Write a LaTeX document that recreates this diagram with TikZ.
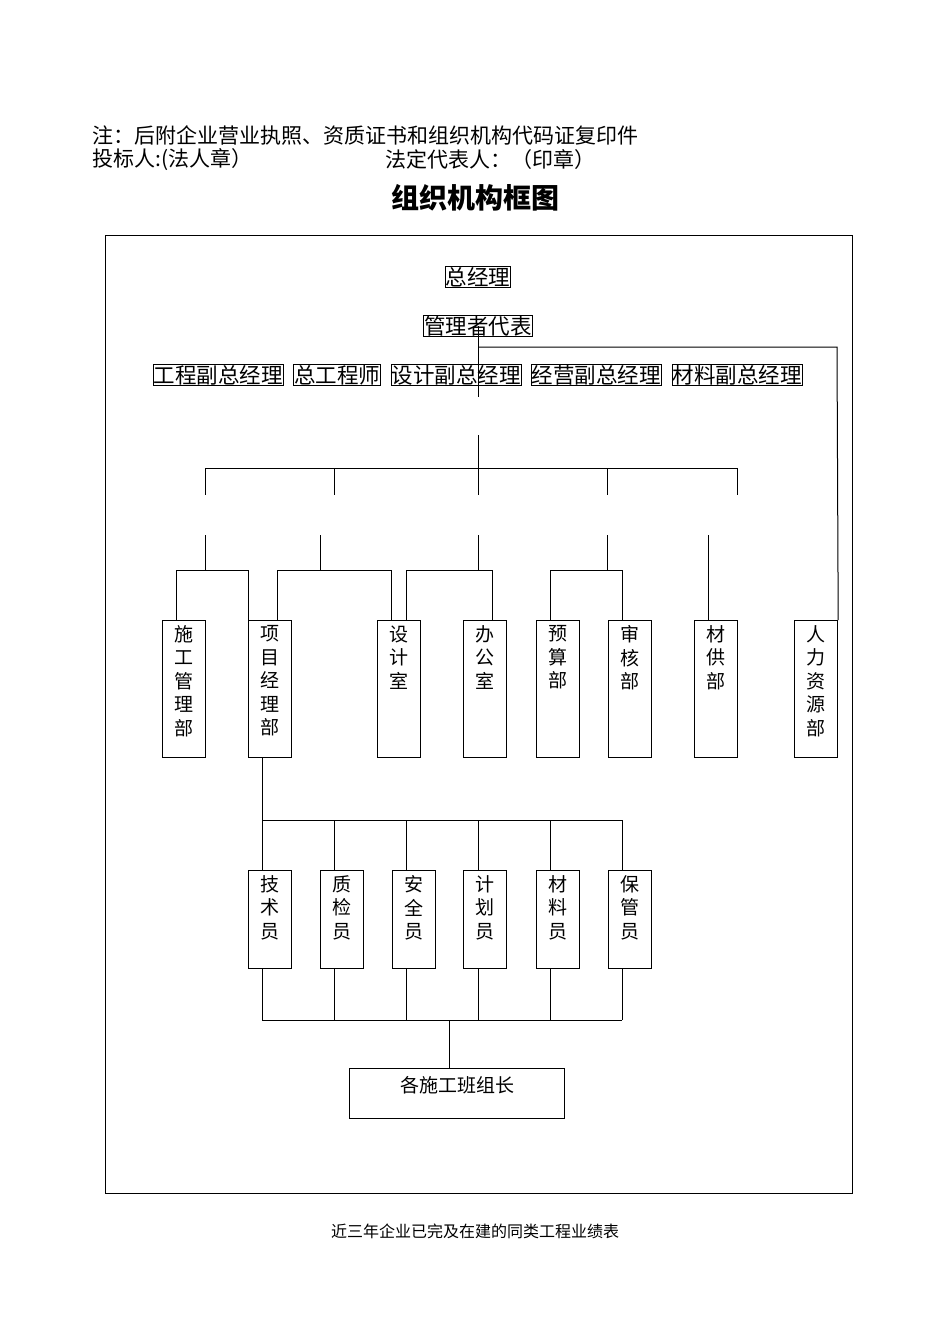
\documentclass[tikz,border=0pt]{standalone}
\usepackage{fontspec}
\newfontfamily\cjk{Noto Sans CJK SC}
\begin{document}
\begin{tikzpicture}[x=1pt,y=-1pt,line width=1pt,
  tb/.style={draw,line width=0.8pt,font=\cjk\fontsize{21.5}{23}\selectfont,inner sep=0.5pt},
  vb/.style={draw,line width=1.2pt,anchor=north west,minimum width=43pt,minimum height=137pt},
  sb/.style={draw,line width=1.2pt,anchor=north west,minimum width=43pt,minimum height=98pt},
  vt/.style={anchor=north,font=\cjk\fontsize{19}{23.5}\selectfont,align=center,inner sep=0pt}]
\useasboundingbox (0,0) rectangle (950,1344);
\node[anchor=west,font=\cjk\fontsize{21}{22}\selectfont,inner sep=0pt] (n1) at (92,135) {注：后附企业营业执照、资质证书和组织机构代码证复印件};
\node[anchor=west,font=\cjk\fontsize{21}{22}\selectfont,inner sep=0pt] (n2) at (92,160) {投标人:(法人章）};
\node[anchor=west,font=\cjk\fontsize{21}{22}\selectfont,inner sep=0pt] (n3) at (385,160) {法定代表人：（印章）};
\node[font=\cjk\bfseries\fontsize{28}{30}\selectfont] (title) at (475,198) {组织机构框图};
\node[font=\cjk\fontsize{16}{18}\selectfont] (foot) at (475,1231) {近三年企业已完及在建的同类工程业绩表};
\draw (105,235) rectangle (852,1193);
\node[tb] (gm) at (478,277) {总经理};
\node[tb] (rep) at (478,326) {管理者代表};
\node[tb] (v1) at (218,375) {工程副总经理};
\node[tb] (v2) at (337,375) {总工程师};
\node[tb] (v3) at (456,375) {设计副总经理};
\node[tb] (v4) at (596,375) {经营副总经理};
\node[tb] (v5) at (737,375) {材料副总经理};
% main trunk
\coordinate (t1) at (478,397);
\coordinate (t2) at (478,435);
\draw (rep.center) -- (t1);
\draw (t2) -- (478,495);
\draw (205,468) -- (737,468);
\foreach \x in {205,334,607,737} \draw (\x,468) -- (\x,495);
% departments
\foreach \n/\x/\t in {d1/162/施\\工\\管\\理\\部, d2/248/项\\目\\经\\理\\部, d3/377/设\\计\\室, d4/463/办\\公\\室, d5/536/预\\算\\部, d6/608/审\\核\\部, d7/694/材\\供\\部, d8/794/人\\力\\资\\源\\部}{
  \node[vb] (\n) at (\x,620) {};
  \node[vt] at ([yshift=-5pt]\n.north) {\t};
}
\foreach \x in {205,320,478,607} \draw (\x,535) -- (\x,570);
\draw (708,535) -- (d7.north -| 708,0);
\draw (176,620) -- (176,570) -- (248,570) -- (248,620);
\draw (277,620) -- (277,570) -- (391,570) -- (391,620);
\draw (406,620) -- (406,570) -- (492,570) -- (492,620);
\draw (550,620) -- (550,570) -- (622,570) -- (622,620);
\draw (rep.center |- 0,347) -- (837,347) -- (d8.north east);
% staff
\draw (262,757) -- (262,820) -- (622,820);
\foreach \n/\x/\t in {s1/248/技\\术\\员, s2/320/质\\检\\员, s3/392/安\\全\\员, s4/463/计\\划\\员, s5/536/材\\料\\员, s6/608/保\\管\\员}{
  \node[sb] (\n) at (\x,870) {};
  \node[vt] at ([yshift=-5pt]\n.north) {\t};
}
\foreach \x in {262,334,406,478,550,622} {\draw (\x,820) -- (\x,870); \draw (\x,968) -- (\x,1020);}
\draw (262,1020) -- (622,1020);
\node[draw,line width=1.2pt,anchor=north west,minimum width=215pt,minimum height=50pt] (leader) at (349,1068) {};
\node[font=\cjk\fontsize{19}{20}\selectfont] at (457,1085) {各施工班组长};
\draw (449,1020) -- (449,1068);
\end{tikzpicture}
\end{document}
